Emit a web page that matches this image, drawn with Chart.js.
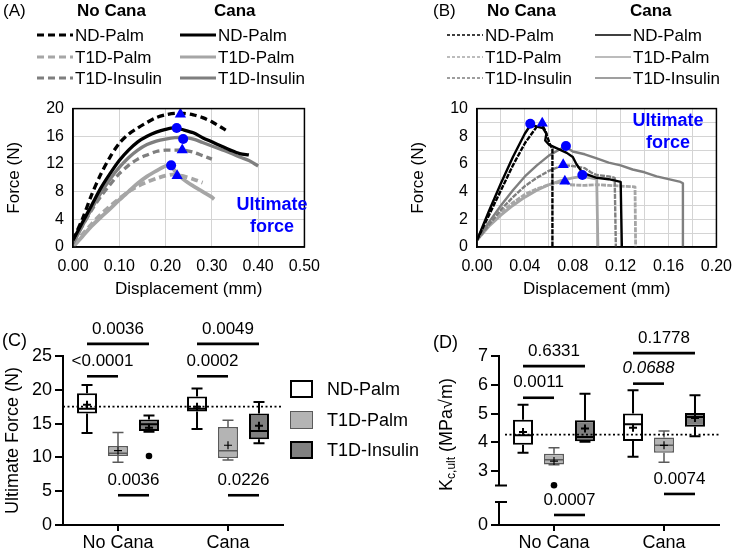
<!DOCTYPE html>
<html><head><meta charset="utf-8">
<script src="https://cdn.jsdelivr.net/npm/chart.js@4.4.1/dist/chart.umd.min.js"></script>
<style>
html,body{margin:0;padding:0;background:#fff}
body{width:742px;height:554px;position:relative;overflow:hidden;font-family:"Liberation Sans",Arial,sans-serif;color:#000}
canvas{position:absolute}
.tx{position:absolute;white-space:nowrap;line-height:1;transform:translateY(-50%)}
svg{position:absolute;left:0;top:0}
.lb{position:absolute;box-sizing:border-box}
</style></head>
<body>
<canvas id="ca" width="330" height="210" style="left:0;top:90px"></canvas>
<canvas id="cb" width="342" height="210" style="left:400px;top:90px"></canvas>
<canvas id="cc" width="292" height="254" style="left:0;top:300px"></canvas>
<canvas id="cd" width="312" height="254" style="left:430px;top:300px"></canvas>
<svg id="ov" width="742" height="554"></svg>
<script>
// ================= DATA =================
const seriesNames = ['ND-Palm', 'T1D-Palm', 'T1D-Insulin'];
const treatments = ['No Cana', 'Cana'];

// Panel A: force (N) vs displacement (mm)
const aNdNoCana  = [[0,1],[0.02,4],[0.04,7.5],[0.06,10.5],[0.08,13],[0.10,15],[0.12,16.3],[0.14,17.2],[0.16,18],[0.18,18.7],[0.20,19.1],[0.22,19.3],[0.24,19.3],[0.26,19.1],[0.28,18.7],[0.30,18.1],[0.32,17.3],[0.33,16.9]];
const aT1pNoCana = [[0,0.5],[0.02,1.8],[0.04,3.3],[0.06,4.7],[0.08,5.9],[0.10,7],[0.12,8],[0.14,8.8],[0.16,9.4],[0.18,9.9],[0.20,10.3],[0.22,10.5],[0.24,10.2],[0.26,9.8],[0.28,9.3]];
const aT1iNoCana = [[0,1],[0.02,3],[0.04,5.3],[0.06,7.3],[0.08,9],[0.10,10.6],[0.12,11.8],[0.14,12.7],[0.16,13.3],[0.18,13.8],[0.20,14],[0.22,14],[0.24,14],[0.26,13.7],[0.28,13.2],[0.30,12.7]];
const aNdCana    = [[0,1],[0.02,3.5],[0.04,6],[0.06,8.5],[0.08,10.6],[0.10,12.5],[0.12,14],[0.14,15.2],[0.16,16],[0.18,16.6],[0.20,17],[0.22,17.2],[0.24,16.9],[0.26,16.5],[0.28,15.8],[0.30,15.2],[0.32,14.6],[0.34,14],[0.36,13.5],[0.38,13.3]];
const aT1pCana   = [[0,0],[0.02,1.5],[0.04,3],[0.06,4.3],[0.08,5.5],[0.10,6.8],[0.12,8],[0.14,9.2],[0.16,10.2],[0.18,11],[0.20,11.7],[0.21,11.8],[0.22,11],[0.24,9.7],[0.26,8.8],[0.28,8],[0.30,7.2],[0.305,6.9]];
const aT1iCana   = [[0,0.5],[0.02,3],[0.04,5.5],[0.06,7.8],[0.08,9.8],[0.10,11.5],[0.12,12.9],[0.14,14],[0.16,14.8],[0.18,15.3],[0.20,15.6],[0.22,15.8],[0.24,15.8],[0.26,15.6],[0.28,15.1],[0.30,14.6],[0.32,14.1],[0.34,13.6],[0.36,13],[0.38,12.5],[0.40,11.7]];
const aPeakNoCana = [[0.232,19.2],[0.236,14.0],[0.225,10.3]];
const aPeakCana   = [[0.224,17.2],[0.238,15.6],[0.212,11.8]];
const aXTicks = [0,0.1,0.2,0.3,0.4,0.5];
const aXLabels = ['0.00','0.10','0.20','0.30','0.40','0.50'];
const aYTicks = [0,4,8,12,16,20];
const aYLabels = ['0','4','8','12','16','20'];

// Panel B
const bNdNoCana  = [[0,0.5],[0.01,2.3],[0.02,4.1],[0.03,5.9],[0.04,7.5],[0.05,8.7],[0.054,8.9],[0.057,8.4],[0.059,7.9],[0.061,7.4],[0.063,7.1],[0.063,0]];
const bT1pNoCana = [[0,0.5],[0.01,1.6],[0.02,2.5],[0.03,3.2],[0.04,3.8],[0.05,4.2],[0.06,4.5],[0.07,4.7],[0.074,4.9],[0.077,4.5],[0.09,4.45],[0.10,4.5],[0.11,4.45],[0.12,4.4],[0.132,4.35],[0.1325,0]];
const bT1iNoCana = [[0,0.5],[0.01,1.6],[0.02,2.7],[0.03,3.6],[0.04,4.4],[0.05,5.0],[0.06,5.5],[0.07,5.85],[0.075,5.9],[0.08,5.85],[0.09,5.7],[0.095,5.4],[0.10,5.2],[0.11,5.1],[0.115,5.0],[0.116,0]];
const bNdCana    = [[0,0.5],[0.01,2.6],[0.02,4.6],[0.03,6.5],[0.04,8.2],[0.045,8.85],[0.05,8.7],[0.055,8.6],[0.058,8.2],[0.057,7.7],[0.06,7.4],[0.065,7.2],[0.07,7.0],[0.075,6.8],[0.08,6.5],[0.083,6.0],[0.087,5.5],[0.09,5.3],[0.10,5.0],[0.11,4.9],[0.12,4.7],[0.121,0]];
const bT1pCana   = [[0,0.5],[0.01,1.5],[0.02,2.3],[0.03,3.0],[0.04,3.6],[0.05,4.1],[0.06,4.5],[0.07,4.8],[0.08,5.0],[0.088,5.1],[0.095,5.0],[0.10,4.9],[0.101,0]];
const bT1iCana   = [[0,0.5],[0.01,1.8],[0.02,3.0],[0.03,4.1],[0.04,5.1],[0.05,5.9],[0.06,6.6],[0.07,7.1],[0.074,7.25],[0.08,6.9],[0.09,6.7],[0.10,6.4],[0.11,6.1],[0.12,5.9],[0.13,5.6],[0.14,5.4],[0.15,5.1],[0.16,4.9],[0.17,4.7],[0.172,4.6],[0.172,0]];
const bPeakNoCana = [[0.0545,8.95],[0.072,5.95],[0.0734,4.75]];
const bPeakCana   = [[0.0445,8.9],[0.0743,7.3],[0.088,5.2]];
const bXTicks = [0,0.02,0.04,0.06,0.08,0.10,0.12,0.14,0.16,0.18,0.20];
const bXLabels = ['0.00','','0.04','','0.08','','0.12','','0.16','','0.20'];
const bYTicks = [0,1,2,3,4,5,6,7,8,9,10];
const bYLabels = ['0','','2','','4','','6','','8','','10'];

// Panel C: ultimate force (N) box stats [min, q1, median, q3, max] per treatment
const cNdPalm  = [[13.6,16.5,17.2,19.5,20.7],[14.2,16.8,17.2,19.0,20.2]];
const cT1dPalm = [[9.3,10.2,10.6,11.7,13.7],[9.6,9.9,11.0,14.5,15.5]];
const cT1dIns  = [[13.8,13.9,14.9,15.6,16.2],[12.1,12.7,13.9,16.5,18.2]];
const cMeans   = [[17.8,17.5],[11.0,11.8],[14.4,14.7]];
const cOutliers = [[[],[]],[[],[]],[[10.2],[]]];
const cRef = 17.5;
const cYTicks = [0,5,10,15,20,25];
// comparisons: [treatment, groupA, groupB, level, p]
const cComparisons = [[0,0,2,26.8,'0.0036'],[0,0,1,22.0,'<0.0001'],[0,1,2,4.4,'0.0036'],
                      [1,0,2,26.8,'0.0049'],[1,0,1,22.0,'0.0002'],[1,1,2,4.4,'0.0226']];

// Panel D: K_c,ult box stats (axis broken below 2.5)
const dNdPalm  = [[3.64,3.92,4.25,4.79,5.31],[3.5,4.05,4.63,5.0,5.81]];
const dT1dPalm = [[3.22,3.23,3.40,3.61,3.81],[3.31,3.64,3.9,4.17,4.4]];
const dT1dIns  = [[4.02,4.04,4.19,4.77,5.69],[4.21,4.54,4.88,5.02,5.64]];
const dMeans   = [[4.36,4.51],[3.35,3.9],[4.48,4.85]];
const dOutliers = [[[],[]],[[2.51],[]],[[],[]]];
const dRef = 4.27;
const dYTicks = [3,4,5,6,7];
const dComparisons = [[0,0,2,6.65,'0.6331'],[0,0,1,5.55,'0.0011'],[0,1,2,1.48,'0.0007'],
                      [1,0,2,7.1,'0.1778'],[1,0,1,6.04,'0.0688'],[1,1,2,2.21,'0.0074']];
const dItalic = ['0.0688'];

// ================= STYLE / RENDER =================
const FONT = '"Liberation Sans", Arial, sans-serif';
Chart.defaults.font.family = FONT;
Chart.defaults.color = '#000';
const lineColors = ['#000000', '#a6a6a6', '#7f7f7f'];
const boxFills = ['#ffffff', '#b4b4b4', '#808080'];
const boxStrokes = ['#000000', '#5a5a5a', '#000000'];

const toXY = arr => arr.map(([x, y]) => ({x, y}));

const framePlugin = {
  id: 'frame',
  afterDraw(chart) {
    const {ctx, chartArea: a} = chart;
    ctx.save(); ctx.strokeStyle = '#000'; ctx.lineWidth = 1.5;
    ctx.strokeRect(a.left, a.top, a.right - a.left, a.bottom - a.top);
    ctx.restore();
  }
};

function curveChart(id, c) {
  const ds = [];
  ds.push({data: toXY(c.tri), showLine: false, pointStyle: 'triangle', pointRadius: 6.5, backgroundColor: '#0000ff', borderColor: '#0000ff', borderWidth: 0});
  ds.push({data: toXY(c.circ), showLine: false, pointStyle: 'circle', pointRadius: 5, backgroundColor: '#0000ff', borderColor: '#0000ff', borderWidth: 0});
  c.series.forEach(s => ds.push({data: toXY(s.d), showLine: true, pointRadius: 0, borderColor: s.col, borderWidth: s.lw || c.lw,
    borderDash: s.dash ? c.dash : [], tension: c.tension, borderCapStyle: 'butt', borderJoinStyle: 'round', fill: false}));
  const axis = (ticks, labels, min, max, title, isX) => ({
    type: 'linear', min, max,
    afterBuildTicks(s) { s.ticks = ticks.map(v => ({value: v})); },
    ticks: {autoSkip: false, maxRotation: 0, font: {size: 16}, padding: isX ? 10 : 9, callback: (v, i) => labels[i]},
    grid: {color: '#d4d4d4', lineWidth: 1, drawTicks: false},
    border: {color: '#000', width: 1.5},
    title: {display: true, text: title, font: {size: 17}, padding: isX ? {top: 0, bottom: 0} : {top: c.titlePad, bottom: 0}},
    afterFit(s) { if (isX) s.height = 53; else s.width = c.yWidth; }
  });
  new Chart(document.getElementById(id), {
    type: 'scatter', data: {datasets: ds},
    options: {
      responsive: false, animation: false, events: [],
      layout: {padding: {top: 7, right: c.padRight, left: 0, bottom: 0}},
      plugins: {legend: {display: false}, tooltip: {enabled: false}},
      scales: {
        x: axis(c.xt, c.xl, 0, c.xMax, 'Displacement (mm)', true),
        y: axis(c.yt, c.yl, 0, c.yMax, 'Force (N)', false)
      }
    },
    plugins: [framePlugin]
  });
}

curveChart('ca', {
  tri: aPeakNoCana, circ: aPeakCana, lw: 3.3, dash: [7, 4], tension: 0.3,
  series: [
    {d: aNdNoCana, col: lineColors[0], dash: true}, {d: aNdCana, col: lineColors[0]},
    {d: aT1iNoCana, col: lineColors[2], dash: true}, {d: aT1iCana, col: lineColors[2]},
    {d: aT1pNoCana, col: lineColors[1], dash: true, lw: 3.8}, {d: aT1pCana, col: lineColors[1], lw: 3.8}
  ],
  xt: aXTicks, xl: aXLabels, yt: aYTicks, yl: aYLabels, xMax: 0.5, yMax: 20,
  yWidth: 73, padRight: 18, titlePad: 4
});
curveChart('cb', {
  tri: bPeakNoCana, circ: bPeakCana, lw: 2.4, dash: [5, 1.2], tension: 0,
  series: [
    {d: bNdNoCana, col: lineColors[0], dash: true}, {d: bNdCana, col: lineColors[0]},
    {d: bT1iNoCana, col: lineColors[2], dash: true}, {d: bT1iCana, col: lineColors[2]},
    {d: bT1pNoCana, col: lineColors[1], dash: true, lw: 2.8}, {d: bT1pCana, col: lineColors[1], lw: 2.8}
  ],
  xt: bXTicks, xl: bXLabels, yt: bYTicks, yl: bYLabels, xMax: 0.2, yMax: 10,
  yWidth: 77, padRight: 19, titlePad: 8
});

// ---------- box charts ----------
function boxPlugin(c) {
  return {
    id: 'boxes_' + c.id,
    afterDatasetsDraw(chart) {
      const ctx = chart.ctx, y = chart.scales.y, a = chart.chartArea;
      ctx.save();
      c.stats.forEach((grp, gi) => {
        const meta = chart.getDatasetMeta(gi);
        grp.forEach((s, ti) => {
          const el = meta.data[ti];
          const x = el.x, w = el.width, cap = w * 0.55;
          ctx.strokeStyle = c.strokes[gi]; ctx.lineWidth = c.bw[gi];
          ctx.beginPath();
          ctx.moveTo(x, y.getPixelForValue(s[3])); ctx.lineTo(x, y.getPixelForValue(s[4]));
          ctx.moveTo(x - cap / 2, y.getPixelForValue(s[4])); ctx.lineTo(x + cap / 2, y.getPixelForValue(s[4]));
          ctx.moveTo(x, y.getPixelForValue(s[1])); ctx.lineTo(x, y.getPixelForValue(s[0]));
          ctx.moveTo(x - cap / 2, y.getPixelForValue(s[0])); ctx.lineTo(x + cap / 2, y.getPixelForValue(s[0]));
          ctx.moveTo(x - w / 2, y.getPixelForValue(s[2])); ctx.lineTo(x + w / 2, y.getPixelForValue(s[2]));
          ctx.stroke();
          // mean +
          const my = y.getPixelForValue(c.means[gi][ti]);
          ctx.strokeStyle = '#000'; ctx.lineWidth = gi === 1 ? 1.2 : 2;
          ctx.beginPath(); ctx.moveTo(x - 4, my); ctx.lineTo(x + 4, my); ctx.moveTo(x, my - 4); ctx.lineTo(x, my + 4); ctx.stroke();
          // outliers
          ctx.fillStyle = '#000';
          c.out[gi][ti].forEach(v => { ctx.beginPath(); ctx.arc(x, y.getPixelForValue(v), 3.3, 0, Math.PI * 2); ctx.fill(); });
        });
      });
      // dotted reference line
      ctx.strokeStyle = '#000'; ctx.lineWidth = 1.8; ctx.setLineDash([2, 2.5]);
      const ry = y.getPixelForValue(c.ref);
      ctx.beginPath(); ctx.moveTo(a.left + c.refStart, ry); ctx.lineTo(a.right, ry); ctx.stroke();
      ctx.setLineDash([]);
      // comparisons
      ctx.lineWidth = 2.6; ctx.strokeStyle = '#000'; ctx.fillStyle = '#000';
      ctx.textAlign = 'center'; ctx.textBaseline = 'middle';
      c.comp.forEach(([t, g1, g2, lev, p]) => {
        const x1 = chart.getDatasetMeta(g1).data[t].x, x2 = chart.getDatasetMeta(g2).data[t].x;
        const py = y.getPixelForValue(lev);
        ctx.beginPath(); ctx.moveTo(x1, py); ctx.lineTo(x2, py); ctx.stroke();
        ctx.font = (c.italic.includes(p) ? 'italic ' : '') + '17px ' + FONT;
        ctx.fillText(p, (x1 + x2) / 2, py - 15);
      });
      ctx.restore();
    }
  };
}

function boxChart(c) {
  const ds = c.stats.map((g, i) => ({
    label: seriesNames[i], data: g.map(s => [s[1], s[3]]),
    backgroundColor: c.fills[i], borderColor: c.strokes[i], borderWidth: c.bw[i], borderSkipped: false,
    categoryPercentage: 0.845, barPercentage: 0.645
  }));
  return new Chart(document.getElementById(c.id), {
    type: 'bar', data: {labels: treatments, datasets: ds},
    options: {
      responsive: false, animation: false, events: [],
      layout: {padding: {top: 56, right: c.padRight, left: 0, bottom: 0}},
      plugins: {legend: {display: false}, tooltip: {enabled: false}},
      scales: {
        x: {type: 'category', offset: true,
            grid: {display: true, drawOnChartArea: false, drawTicks: true, tickLength: 6, offset: false, color: '#000', lineWidth: 2},
            border: {color: '#000', width: 2},
            ticks: {font: {size: 18}, padding: 1},
            afterFit(s) { s.height = 29; }},
        y: c.yScale
      }
    },
    plugins: [boxPlugin(c)].concat(c.extra || [])
  });
}

boxChart({
  id: 'cc', stats: [cNdPalm, cT1dPalm, cT1dIns], means: cMeans, out: cOutliers, ref: cRef, refStart: 0,
  comp: cComparisons, italic: [], fills: boxFills, strokes: boxStrokes, bw: [2, 1.5, 2], padRight: 9,
  yScale: {type: 'linear', min: 0, max: 25,
    afterBuildTicks(s) { s.ticks = cYTicks.map(v => ({value: v})); },
    ticks: {font: {size: 18}, padding: 3},
    grid: {display: true, drawOnChartArea: false, drawTicks: true, tickLength: 8, color: '#000', lineWidth: 2},
    border: {color: '#000', width: 2},
    title: {display: true, text: 'Ultimate Force (N)', font: {size: 18}, padding: {top: 2, bottom: 0}},
    afterFit(s) { s.width = 63; }}
});

// Panel D: broken axis. Display value = real value above the break; the axis bottom (real 0) sits at dBottom.
const dBottom = 1.132, dBreakLow = 1.93, dBreakHigh = 2.5;
const dAxisPlugin = {
  id: 'daxis',
  afterDraw(chart) {
    const {ctx, chartArea: a} = chart, y = chart.scales.y;
    ctx.save(); ctx.strokeStyle = '#000'; ctx.lineWidth = 2;
    const x = a.left;
    const yTop = y.getPixelForValue(7), yBh = y.getPixelForValue(dBreakHigh), yBl = y.getPixelForValue(dBreakLow), yB = y.getPixelForValue(dBottom);
    ctx.beginPath();
    ctx.moveTo(x, yTop - 1); ctx.lineTo(x, yBh);
    ctx.moveTo(x - 4, yBh); ctx.lineTo(x + 8, yBh);
    ctx.moveTo(x - 4, yBl); ctx.lineTo(x + 8, yBl);
    ctx.moveTo(x, yBl); ctx.lineTo(x, yB + 1);
    ctx.stroke();
    // axis title with subscript
    ctx.translate(17, (a.top + a.bottom) / 2 - 6);
    ctx.rotate(-Math.PI / 2);
    ctx.fillStyle = '#000'; ctx.textBaseline = 'middle'; ctx.textAlign = 'left';
    const f1 = '18px ' + FONT, f2 = '12px ' + FONT;
    ctx.font = f1; const wK = ctx.measureText('K').width, wR = ctx.measureText(' (MPa\u221Am)').width;
    ctx.font = f2; const wS = ctx.measureText('c,ult').width;
    let tx = -(wK + wS + wR) / 2;
    ctx.font = f1; ctx.fillText('K', tx, 0); tx += wK;
    ctx.font = f2; ctx.fillText('c,ult', tx, 5); tx += wS;
    ctx.font = f1; ctx.fillText(' (MPa\u221Am)', tx, 0);
    ctx.restore();
  }
};
boxChart({
  id: 'cd', stats: [dNdPalm, dT1dPalm, dT1dIns], means: dMeans, out: dOutliers, ref: dRef, refStart: 6,
  comp: dComparisons, italic: dItalic, fills: boxFills, strokes: boxStrokes, bw: [2, 1.5, 2], padRight: 23,
  extra: [dAxisPlugin],
  yScale: {type: 'linear', min: dBottom, max: 7,
    afterBuildTicks(s) { s.ticks = [dBottom].concat(dYTicks).map(v => ({value: v})); },
    ticks: {font: {size: 18}, padding: 3, callback: v => v < 2 ? '0' : String(v)},
    grid: {display: true, drawOnChartArea: false, drawTicks: true, tickLength: 8, color: '#000', lineWidth: 2},
    border: {display: false},
    afterFit(s) { s.width = 69; }}
});

// ---------- HTML legends & labels ----------
const ov = document.getElementById('ov');
function txt(s, x, y, size, extra) {
  const d = document.createElement('div');
  d.className = 'tx'; d.textContent = s;
  d.style.left = x + 'px'; d.style.top = y + 'px'; d.style.fontSize = size + 'px';
  if (extra) Object.assign(d.style, extra);
  document.body.appendChild(d); return d;
}
function seg(x1, x2, y, col, w, dash) {
  const l = document.createElementNS('http://www.w3.org/2000/svg', 'line');
  l.setAttribute('x1', x1); l.setAttribute('x2', x2); l.setAttribute('y1', y); l.setAttribute('y2', y);
  l.setAttribute('stroke', col); l.setAttribute('stroke-width', w);
  if (dash) l.setAttribute('stroke-dasharray', dash);
  ov.appendChild(l);
}
const legendRows = [35, 57, 78];
function curveLegend(letterX, hx1, hx2, lx1, lx2, lineW, dash, size) {
  txt(letterX[0], letterX[1], 10, 17);
  txt(treatments[0], hx1, 10, 17, {fontWeight: 'bold'});
  txt(treatments[1], hx2, 10, 17, {fontWeight: 'bold'});
  seriesNames.forEach((n, i) => {
    seg(lx1[0], lx1[1], legendRows[i], lineColors[i], lineW, dash);
    txt(n, lx1[1] + 2, legendRows[i], size);
    seg(lx2[0], lx2[1], legendRows[i], lineColors[i], lineW, null);
    txt(n, lx2[1] + 2, legendRows[i], size);
  });
}
curveLegend(['(A)', 3], 77, 214, [37, 73], [180, 216], 3.2, '7 4', 17);
curveLegend(['(B)', 433], 487, 630, [447, 483], [595, 631], 1.6, '3 2', 17);

function blueNote(x, y1, y2) {
  txt('Ultimate', x, y1, 18, {fontWeight: 'bold', color: '#0000ff', transform: 'translate(-50%,-50%)'});
  txt('force', x, y2, 18, {fontWeight: 'bold', color: '#0000ff', transform: 'translate(-50%,-50%)'});
}
blueNote(272, 204, 226);
blueNote(668, 120, 142);

txt('(C)', 2, 340, 18);
txt('(D)', 433, 342, 18);
// Panel C legend
[389, 420, 450].forEach((yy, i) => {
  const b = document.createElement('div');
  b.className = 'lb';
  Object.assign(b.style, {left: '290px', top: (yy - 9) + 'px', width: '23px', height: '18px',
    background: boxFills[i], border: (i === 1 ? '1.5px solid ' : '2px solid ') + boxStrokes[i]});
  document.body.appendChild(b);
  txt(seriesNames[i], 327, yy, 18);
});
</script>
</body></html>
